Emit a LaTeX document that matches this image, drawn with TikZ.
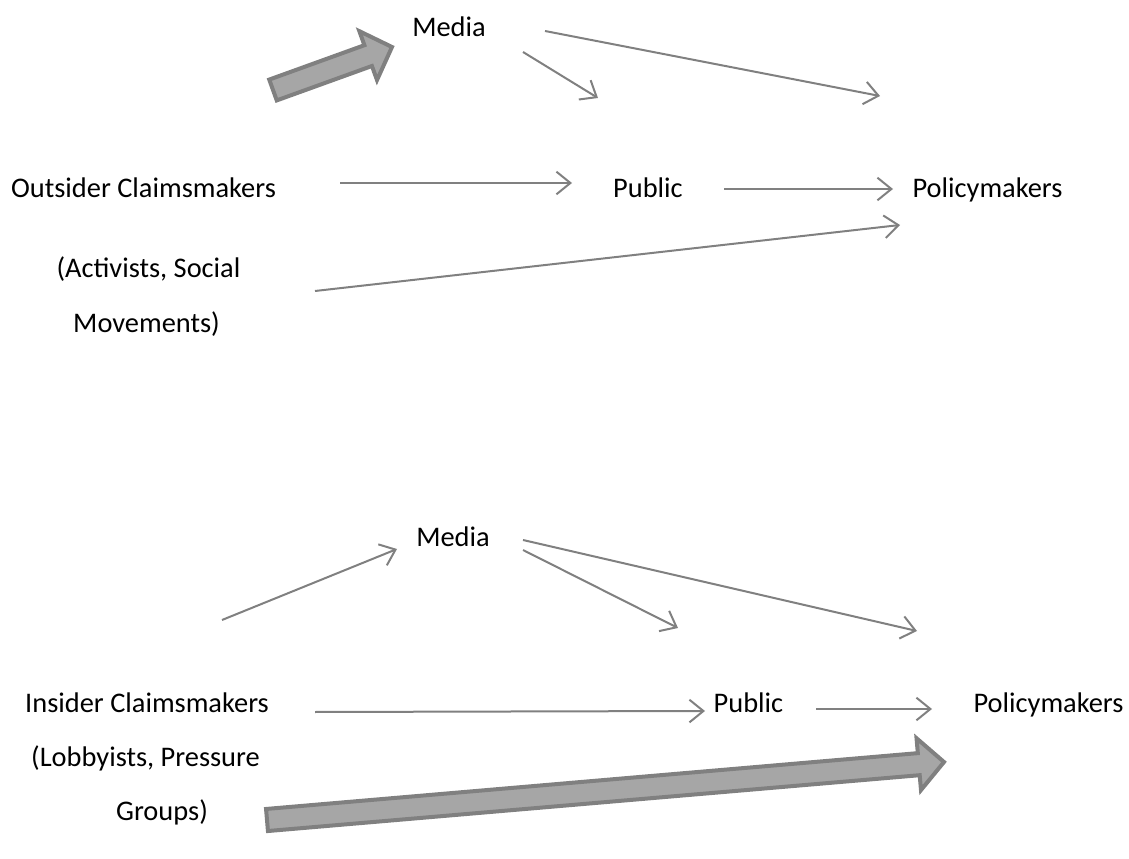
\documentclass[tikz,border=0pt]{standalone}
\usepackage{fontspec}
\setmainfont{Carlito}
\usetikzlibrary{arrows.meta,calc}
\definecolor{ln}{RGB}{128,128,128}
\definecolor{fatfill}{RGB}{166,166,166}
\newcommand\fatarrow[2]{%
  \coordinate (fab) at ($(#2)!19pt!(#1)$);
  \path[fat] ($(#1)!8.3pt!90:(#2)$) -- ($(fab)!8.3pt!90:(#2)$) -- ($(fab)!19.5pt!90:(#2)$) -- (#2)
    -- ($(fab)!19.5pt!-90:(#2)$) -- ($(fab)!8.3pt!-90:(#2)$) -- ($(#1)!8.3pt!-90:(#2)$) -- cycle;}
\begin{document}
\begin{tikzpicture}[x=0.75pt,y=-0.75pt,
  lbl/.style={anchor=base,inner sep=0pt,font=\fontsize{21.3}{25}\selectfont},
  conn/.style={draw=ln,line width=1.5pt,-{Straight Barb[length=10.5pt,width=17pt]}},
  fat/.style={draw=ln,fill=fatfill,line width=3pt,line join=miter}]
\useasboundingbox (0,0) rectangle (1129,859);

% ---------- top diagram ----------
\node[lbl] (media1) at (449,37) {Media};
\node[lbl] (out) at (143.5,198) {Outsider Claimsmakers};
\node[lbl] (act1) at (148.5,278) {(Activists, Social};
\node[lbl] (act2) at (146.5,333) {Movements)};
\node[lbl] (pub1) at (648,198) {Public};
\node[lbl] (pol1) at (987.5,198) {Policymakers};

\coordinate (fa1s) at (273,90);
\coordinate (fa1e) at (392,47);
\fatarrow{fa1s}{fa1e}

\coordinate (m1a) at (523,52);   \coordinate (p1a) at (598,98);
\coordinate (m1b) at (545,31);   \coordinate (q1a) at (880,96);
\coordinate (o1) at (340,183);   \coordinate (p1b) at (572,183);
\coordinate (p1c) at (724,189);  \coordinate (q1b) at (893,189);
\coordinate (a1) at (315,291);   \coordinate (q1c) at (900,225);
\draw[conn] (m1a) -- (p1a);
\draw[conn] (m1b) -- (q1a);
\draw[conn] (o1) -- (p1b);
\draw[conn] (p1c) -- (q1b);
\draw[conn] (a1) -- (q1c);

% ---------- bottom diagram ----------
\node[lbl] (media2) at (453,546) {Media};
\node[lbl] (ins) at (147,712) {Insider Claimsmakers};
\node[lbl] (lob1) at (145.5,766) {(Lobbyists, Pressure};
\node[lbl] (lob2) at (162,820) {Groups)};
\node[lbl] (pub2) at (748.5,712) {Public};
\node[lbl] (pol2) at (1048.5,712) {Policymakers};

\coordinate (i2) at (222,620);   \coordinate (m2in) at (397,549);
\coordinate (m2a) at (523,550);  \coordinate (p2a) at (678,628);
\coordinate (m2b) at (523,540);  \coordinate (q2a) at (917,631);
\coordinate (i2b) at (315,712);  \coordinate (p2b) at (705,711);
\coordinate (p2c) at (816,709);  \coordinate (q2b) at (932,709);
\draw[conn] (i2) -- (m2in);
\draw[conn] (m2a) -- (p2a);
\draw[conn] (m2b) -- (q2a);
\draw[conn] (i2b) -- (p2b);
\draw[conn] (p2c) -- (q2b);

\coordinate (fa2s) at (267,820);
\coordinate (fa2e) at (944,762);
\fatarrow{fa2s}{fa2e}
\end{tikzpicture}
\end{document}
